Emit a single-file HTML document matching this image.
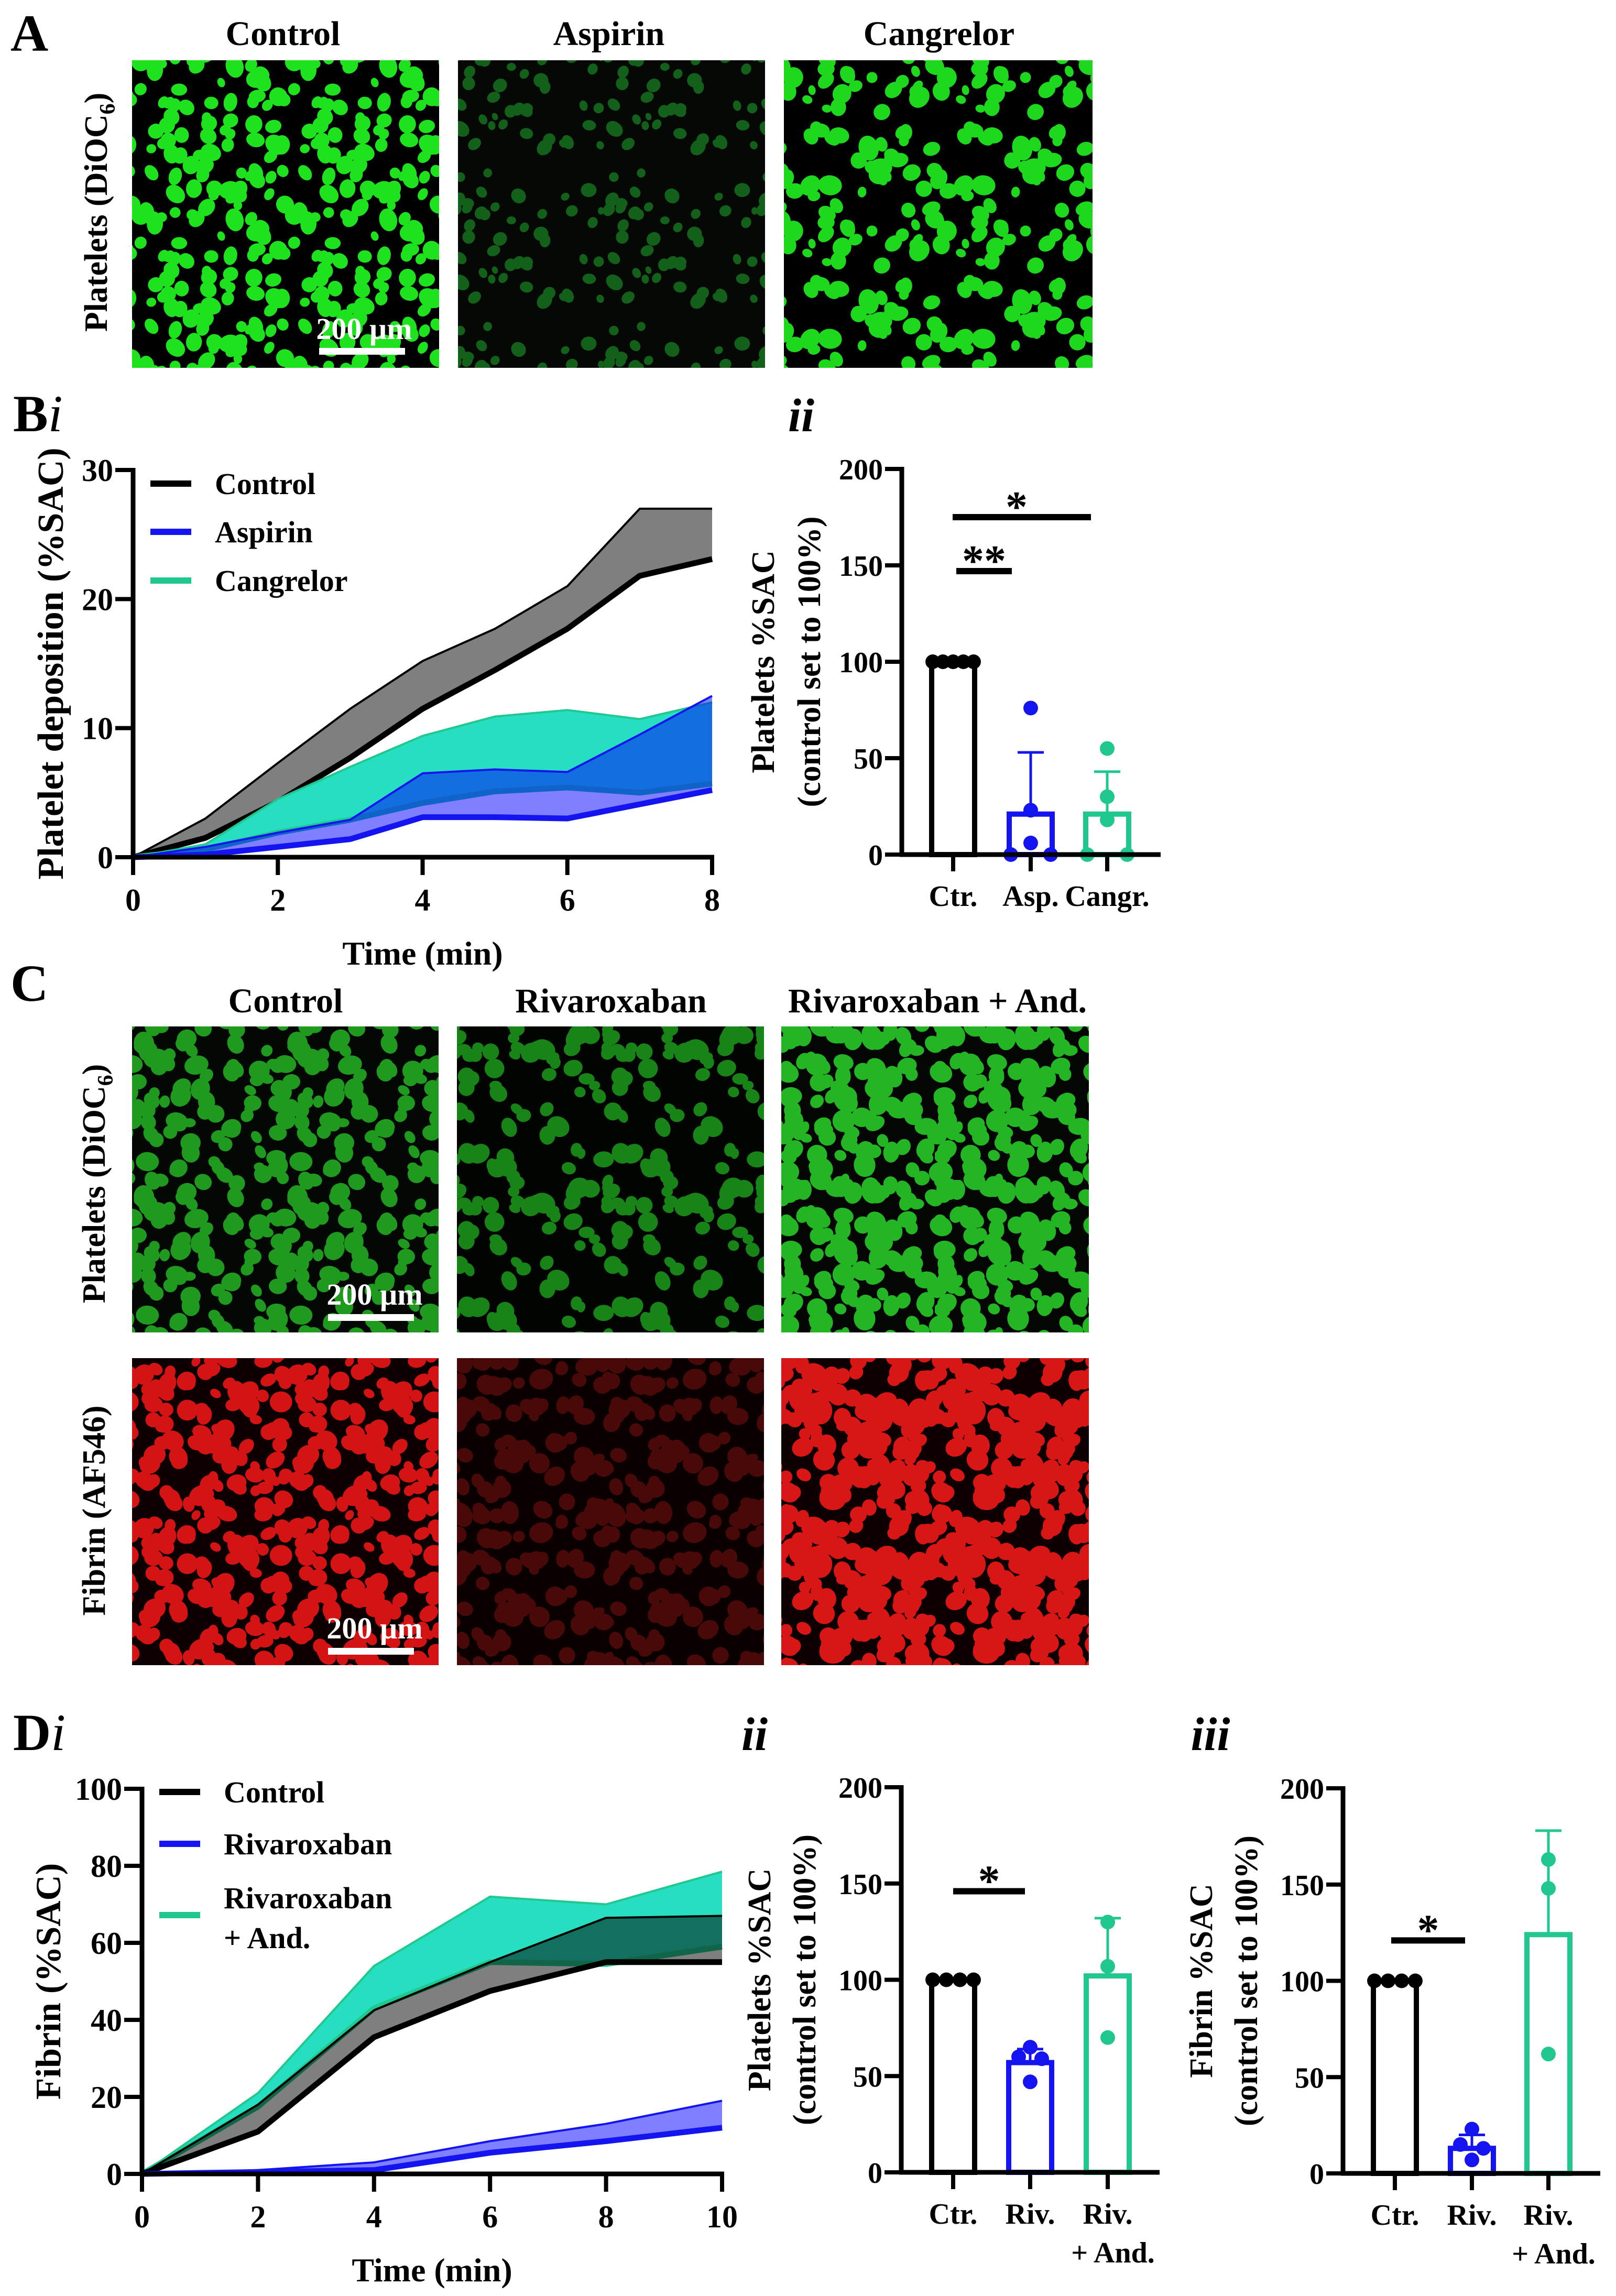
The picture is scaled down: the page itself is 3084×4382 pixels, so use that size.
<!DOCTYPE html>
<html><head><meta charset="utf-8">
<style>
html,body{margin:0;padding:0;background:#fff;}
body{width:3084px;height:4382px;position:relative;overflow:hidden;font-family:"Liberation Serif",serif;}
#fig{position:absolute;left:0;top:0;}
text{font-family:"Liberation Serif",serif;font-weight:bold;fill:#000;}
</style></head>
<body>
<svg id="fig" width="3084" height="4382" xmlns="http://www.w3.org/2000/svg">
  <defs id="defs"></defs>
  <g id="micros"></g>
  <text x="20" y="97" font-size="100">A</text>
  <text x="540" y="86" font-size="66" text-anchor="middle">Control</text>
  <text x="1162" y="86" font-size="66" text-anchor="middle">Aspirin</text>
  <text x="1792" y="86" font-size="66" text-anchor="middle">Cangrelor</text>
  <text transform="translate(204,405) rotate(-90)" font-size="62" text-anchor="middle">Platelets (DiOC<tspan font-size="42" dy="15">6</tspan><tspan dy="-15">)</tspan></text>
  <rect x="609" y="664" width="164" height="13" fill="#fff"/>
  <text x="695" y="647" font-size="58" text-anchor="middle" style="fill:#fff">200 µm</text>

  <text x="20" y="1910" font-size="100">C</text>
  <text x="545" y="1932" font-size="66" text-anchor="middle">Control</text>
  <text x="1166" y="1932" font-size="66" text-anchor="middle">Rivaroxaban</text>
  <text x="1789" y="1932" font-size="66" text-anchor="middle">Rivaroxaban + And.</text>
  <text transform="translate(200,2259) rotate(-90)" font-size="62" text-anchor="middle">Platelets (DiOC<tspan font-size="42" dy="15">6</tspan><tspan dy="-15">)</tspan></text>
  <text transform="translate(200,2883) rotate(-90)" font-size="62" text-anchor="middle">Fibrin (AF546)</text>
  <rect x="626" y="2508" width="164" height="13" fill="#fff"/>
  <text x="715" y="2490" font-size="58" text-anchor="middle" style="fill:#fff">200 µm</text>
  <rect x="626" y="3145" width="164" height="13" fill="#fff"/>
  <text x="715" y="3127" font-size="58" text-anchor="middle" style="fill:#fff">200 µm</text>

  <text x="25" y="823" font-size="100">B<tspan font-style="italic" font-weight="normal">i</tspan></text>
  <text x="1529" y="823" font-size="90" text-anchor="middle" font-style="italic" font-weight="normal">ii</text>
  <text x="25" y="3340" font-size="100">D<tspan font-style="italic" font-weight="normal">i</tspan></text>
  <text x="1440" y="3340" font-size="90" text-anchor="middle" font-style="italic" font-weight="normal">ii</text>
  <text x="2310" y="3340" font-size="90" text-anchor="middle" font-style="italic" font-weight="normal">iii</text>

  <g id="chartBi"></g>
  <g id="chartBii"></g>
  <g id="chartDi"></g>
  <g id="chartDii"></g>
  <g id="chartDiii"></g>
</svg>

<script>
// Bi: platelet deposition (%SAC) vs time
const biTime = [0,1,2,3,4,5,6,7,8];
const biControlUpper = [0,3,7.3,11.5,15.2,17.7,21,27,27];
const biControlLower = [0,1.5,4.3,7.7,11.5,14.5,17.7,21.8,23.1];
const biAspirinUpper = [0,0.8,1.9,2.9,6.5,6.8,6.6,9.5,12.5];
const biAspirinLower = [0,0.2,0.8,1.4,3.1,3.1,3.0,4.1,5.2];
const biCangrelorUpper = [0,1.0,4.5,7.0,9.4,10.9,11.4,10.7,12.0];
const biCangrelorLower = [0,0.6,1.9,2.9,4.2,5.1,5.4,5.0,5.7];
const biXTicks = [0,2,4,6,8];
const biYTicks = [0,10,20,30];

// Bii
const biiCategories = ["Ctr.","Asp.","Cangr."];
const biiMeans = [100,21,21];
const biiSD = [0,32,22];
const biiPoints = [[100,100,100,100,100],[76,23,6,0,0],[55,30,18,0,0]];
const biiYTicks = [0,50,100,150,200];

// Di
const diTime = [0,2,4,6,8,10];
const diControlUpper = [0,18,42.5,55,66.5,67];
const diControlLower = [0,11,35.5,47.5,55,55];
const diRivUpper = [0,1,3,8.5,13,19];
const diRivLower = [0,0.5,1,5.5,8.5,12];
const diRivAndUpper = [0,21,54,72,70,78.5];
const diRivAndLower = [0,17.5,43,55,54.5,59];
const diXTicks = [0,2,4,6,8,10];
const diYTicks = [0,20,40,60,80,100];

// Dii
const diiCategories = ["Ctr.","Riv.","Riv."];
const diiMeans = [100,57,102];
const diiSD = [0,7,30];
const diiPoints = [[100,100,100,100],[65,60,59,47],[130,107,70]];
// Diii
const diiiCategories = ["Ctr.","Riv.","Riv."];
const diiiMeans = [100,13,124];
const diiiSD = [0,7,54];
const diiiPoints = [[100,100,100,100],[23,15,13,7],[163,148,62]];
const barYTicks = [0,50,100,150,200];

const NS = "http://www.w3.org/2000/svg";
function mk(parent, tag, attrs){
  const e = document.createElementNS(NS, tag);
  for (const k in attrs) e.setAttribute(k, attrs[k]);
  parent.appendChild(e);
  return e;
}
function linScale(d0,d1,r0,r1){ return function(v){ return r0 + (v-d0)*(r1-r0)/(d1-d0); }; }

const BLUE = "#1414f0", TEAL = "#20c890", TEALFILL = "#26dfc0";

function bandChart(g, cfg){
  const X = linScale(cfg.xmin, cfg.xmax, cfg.x0, cfg.x1);
  const Y = linScale(cfg.ymin, cfg.ymax, cfg.y0, cfg.y1);
  cfg.series.forEach(function(s){
    const pts = [];
    cfg.time.forEach(function(t,i){pts.push(X(t)+","+Y(s.upper[i]));});
    for (let i=cfg.time.length-1;i>=0;i--) pts.push(X(cfg.time[i])+","+Y(s.lower[i]));
    const poly = mk(g,"polygon",{points:pts.join(" "), fill:s.fill, "fill-opacity":s.alpha, stroke:"none"});
    
    
    const up = mk(g,"polyline",{points:cfg.time.map(function(t,i){return X(t)+","+Y(s.upper[i]);}).join(" "), fill:"none", stroke:s.line, "stroke-width":4, "stroke-linejoin":"round"});
    
    
    const lo = mk(g,"polyline",{points:cfg.time.map(function(t,i){return X(t)+","+Y(s.lower[i]);}).join(" "), fill:"none", stroke:s.line, "stroke-width":11, "stroke-linejoin":"round"});
    
    
  });
  const ya = mk(g,"line",{x1:cfg.x0,y1:cfg.y0+4,x2:cfg.x0,y2:cfg.y1-4,stroke:"#000","stroke-width":9});
  
  
  const xa = mk(g,"line",{x1:cfg.x0-4,y1:cfg.y0,x2:cfg.x1+4,y2:cfg.y0,stroke:"#000","stroke-width":9});
  
  
  cfg.yticks.forEach(function(v){
    const tk = mk(g,"line",{x1:cfg.x0-34,y1:Y(v),x2:cfg.x0,y2:Y(v),stroke:"#000","stroke-width":8});
    
    
    const tl = mk(g,"text",{x:cfg.x0-38,y:Y(v)+21,"font-size":60,"text-anchor":"end"});
    tl.textContent = v;
    
    
  });
  cfg.xticks.forEach(function(v){
    const tk = mk(g,"line",{x1:X(v),y1:cfg.y0,x2:X(v),y2:cfg.y0+34,stroke:"#000","stroke-width":8});
    
    
    const tl = mk(g,"text",{x:X(v),y:cfg.y0+102,"font-size":60,"text-anchor":"middle"});
    tl.textContent = v;
    
    
  });
  const xt = mk(g,"text",{x:(cfg.x0+cfg.x1)/2,y:cfg.y0+205,"font-size":64,"text-anchor":"middle"});
  xt.textContent = "Time (min)";
  
  
  const yt = mk(g,"text",{transform:"translate("+(cfg.ylabX+24)+","+((cfg.y0+cfg.y1)/2)+") rotate(-90)","font-size":cfg.ylabSize,"text-anchor":"middle"});
  yt.textContent = cfg.ylabel;
  
  
  cfg.legend.forEach(function(l){
    const ll = mk(g,"line",{x1:cfg.legX,y1:l.y,x2:cfg.legX+78,y2:l.y,stroke:l.color,"stroke-width":12});
    
    
    l.text.forEach(function(tx,i){
      const t = mk(g,"text",{x:cfg.legX+123,y:l.ty[i],"font-size":58});
      t.textContent = tx;
      
      
    });
  });
}

bandChart(document.getElementById("chartBi"),{
  time:biTime, xmin:0,xmax:8,ymin:0,ymax:30, x0:254,x1:1359,y0:1636,y1:897,
  xticks:biXTicks, yticks:biYTicks, ylabel:"Platelet deposition (%SAC)", ylabX:96, ylabSize:70,
  series:[
    {name:"control",upper:biControlUpper,lower:biControlLower,fill:"#000",alpha:0.5,line:"#000"},
    {name:"cangrelor",upper:biCangrelorUpper,lower:biCangrelorLower,fill:TEALFILL,alpha:1,line:TEAL},
    {name:"aspirin",upper:biAspirinUpper,lower:biAspirinLower,fill:"#0000ff",alpha:0.5,line:BLUE}
  ],
  legX:287,
  legend:[{y:923,color:"#000",text:["Control"],ty:[943]},{y:1015,color:BLUE,text:["Aspirin"],ty:[1035]},{y:1108,color:TEAL,text:["Cangrelor"],ty:[1128]}]
});

bandChart(document.getElementById("chartDi"),{
  time:diTime, xmin:0,xmax:10,ymin:0,ymax:100, x0:271,x1:1378,y0:4149,y1:3414,
  xticks:diXTicks, yticks:diYTicks, ylabel:"Fibrin (%SAC)", ylabX:91, ylabSize:68,
  series:[
    {name:"rivaroxaban-andexanet",upper:diRivAndUpper,lower:diRivAndLower,fill:TEALFILL,alpha:1,line:TEAL},
    {name:"control",upper:diControlUpper,lower:diControlLower,fill:"#000",alpha:0.5,line:"#000"},
    {name:"rivaroxaban",upper:diRivUpper,lower:diRivLower,fill:"#0000ff",alpha:0.5,line:BLUE}
  ],
  legX:304,
  legend:[{y:3420,color:"#000",text:["Control"],ty:[3440]},{y:3519,color:BLUE,text:["Rivaroxaban"],ty:[3539]},{y:3655,color:TEAL,text:["Rivaroxaban","+ And."],ty:[3642,3718]}]
});

function barChart(g, cfg){
  const Y = linScale(0,200,cfg.y0,cfg.y1);
  const ya = mk(g,"line",{x1:cfg.x0,y1:cfg.y0+4,x2:cfg.x0,y2:cfg.y1-4,stroke:"#000","stroke-width":9});
  
  
  cfg.yticks.forEach(function(v){
    const tk = mk(g,"line",{x1:cfg.x0-32,y1:Y(v),x2:cfg.x0,y2:Y(v),stroke:"#000","stroke-width":8});
    
    
    const tl = mk(g,"text",{x:cfg.x0-36,y:Y(v)+20,"font-size":56,"text-anchor":"end"});
    tl.textContent = v;
    
    
  });
  const bw = 82;
  cfg.means.forEach(function(m,i){
    const cx = cfg.centers[i], col = cfg.colors[i];
    const top = cfg.means[i]+cfg.sd[i];
    if (cfg.sd[i]>0){
      const eb = mk(g,"line",{x1:cx,y1:Y(m),x2:cx,y2:Y(top),stroke:col,"stroke-width":5});
      
      
      const ec = mk(g,"line",{x1:cx-25,y1:Y(top),x2:cx+25,y2:Y(top),stroke:col,"stroke-width":5});
      
      
    }
    const b = mk(g,"rect",{x:cx-bw/2,y:Y(m),width:bw,height:Y(0)-Y(m),fill:"none",stroke:col,"stroke-width":10});
    
    
    const pts = cfg.points[i], n = pts.length;
    pts.forEach(function(p,j){
      let dx = 0;
      if (i===0) dx = (j-(n-1)/2)*(bw*0.95/(n-1));
      else if (n===5) dx = [0,0,0,-38,38][j];
      else if (n===4) dx = [0,-22,22,0][j];
      const c = mk(g,"circle",{cx:cx+dx,cy:Y(p),r:14,fill:col});
      
      
    });
    const tk = mk(g,"line",{x1:cx,y1:cfg.y0,x2:cx,y2:cfg.y0+32,stroke:"#000","stroke-width":8});
    
    
    const tl = mk(g,"text",{x:cx,y:cfg.y0+98,"font-size":56,"text-anchor":"middle"});
    tl.textContent = cfg.cats[i];
    
    
    if (cfg.sub && cfg.sub[i]){
      const s = mk(g,"text",{x:cx+10,y:cfg.y0+172,"font-size":56,"text-anchor":"middle"});
      s.textContent = cfg.sub[i];
      
      
    }
  });
  const xa = mk(g,"line",{x1:cfg.x0-4,y1:cfg.y0,x2:cfg.x1,y2:cfg.y0,stroke:"#000","stroke-width":9});
  
  
  cfg.sig.forEach(function(s){
    const l = mk(g,"line",{x1:s.xa,y1:Y(s.v),x2:s.xb,y2:Y(s.v),stroke:"#000","stroke-width":12});
    
    
    const t = mk(g,"text",{x:(s.xa+s.xb)/2+s.off,y:Y(s.v)+8,"font-size":84,"text-anchor":"middle"});
    t.textContent = s.label;
    
    
  });
  cfg.ylabel.forEach(function(t,i){
    const yt = mk(g,"text",{transform:"translate("+(cfg.ylabX[i]+22)+","+((cfg.y0+cfg.y1)/2)+") rotate(-90)","font-size":62,"text-anchor":"middle"});
    yt.textContent = t;
    
    
  });
}

barChart(document.getElementById("chartBii"),{
  x0:1721,x1:2215,y0:1631,y1:895, yticks:biiYTicks, cats:biiCategories, means:biiMeans, sd:biiSD, points:biiPoints,
  centers:[1819,1967,2113], colors:["#000",BLUE,TEAL],
  sig:[{xa:1818,xb:2082,v:175,label:"*",off:-10},{xa:1825,xb:1931,v:147,label:"**",off:0}],
  ylabel:["Platelets %SAC","(control set to 100%)"], ylabX:[1455,1543]
});
barChart(document.getElementById("chartDii"),{
  x0:1720,x1:2213,y0:4146,y1:3411, yticks:barYTicks, cats:diiCategories, sub:[null,null,"+ And."], means:diiMeans, sd:diiSD, points:diiPoints,
  centers:[1819,1966,2114], colors:["#000",BLUE,TEAL],
  sig:[{xa:1819,xb:1956,v:146,label:"*",off:0}],
  ylabel:["Platelets %SAC","(control set to 100%)"], ylabX:[1448,1534]
});
barChart(document.getElementById("chartDiii"),{
  x0:2563,x1:3054,y0:4148,y1:3413, yticks:barYTicks, cats:diiiCategories, sub:[null,null,"+ And."], means:diiiMeans, sd:diiiSD, points:diiiPoints,
  centers:[2662,2809,2955], colors:["#000",BLUE,TEAL],
  sig:[{xa:2655,xb:2796,v:121,label:"*",off:0}],
  ylabel:["Fibrin %SAC","(control set to 100%)"], ylabX:[2291,2377]
});

// ---------- Micrograph textures (decorative, pattern tiles) ----------
function seeded(seed){ let s=seed>>>0; return function(){ s=(s*1664525+1013904223)>>>0; return s/4294967296; }; }
const defs = document.getElementById("defs"), micros = document.getElementById("micros");
function micro(name, x, y, w, h, seed, n, rmin, rmax, color, bg){
  const R = seeded(seed), T = 293;
  const pat = mk(defs,"pattern",{id:"p"+seed, width:T, height:T, patternUnits:"userSpaceOnUse", x:x, y:y});
  mk(pat,"rect",{x:0,y:0,width:T,height:T,fill:bg});
  for (let i=0;i<n;i++){
    const cx=R()*T, cy=R()*T, r=rmin+R()*(rmax-rmin), ry=r*(0.7+R()*0.6), a=R()*180;
    for (let ox=-T; ox<=T; ox+=T) for (let oy=-T; oy<=T; oy+=T){
      if (cx+ox+r<0||cx+ox-r>T||cy+oy+r<0||cy+oy-r>T) continue;
      mk(pat,"ellipse",{cx:cx+ox,cy:cy+oy,rx:r,ry:ry,fill:color,transform:"rotate("+a+" "+(cx+ox)+" "+(cy+oy)+")"});
    }
  }
  const rect = mk(micros,"rect",{x:x,y:y,width:w,height:h,fill:"url(#p"+seed+")"});
  
  
}
micro("micrograph-a-control",252,115,586,587,11,80,9,18,"#1ee21e","#000");
micro("micrograph-a-aspirin",874,115,586,587,12,45,7,14,"#12601a","#050805");
micro("micrograph-a-cangrelor",1496,115,589,587,13,60,9,20,"#1ed81e","#000");
micro("micrograph-c-platelets-control",252,1959,585,584,21,80,10,20,"#1f9a1f","#040804");
micro("micrograph-c-platelets-rivaroxaban",872,1959,586,584,22,55,10,20,"#188418","#020402");
micro("micrograph-c-platelets-rivaroxaban-and",1491,1959,587,584,23,105,11,22,"#24b524","#030603");
micro("micrograph-c-fibrin-control",252,2592,585,586,31,95,10,20,"#d41414","#0e0000");
micro("micrograph-c-fibrin-rivaroxaban",872,2592,586,586,32,75,10,20,"#4a0909","#0a0000");
micro("micrograph-c-fibrin-rivaroxaban-and",1491,2592,587,586,33,125,11,22,"#d81616","#0e0000");
</script>
</body></html>
